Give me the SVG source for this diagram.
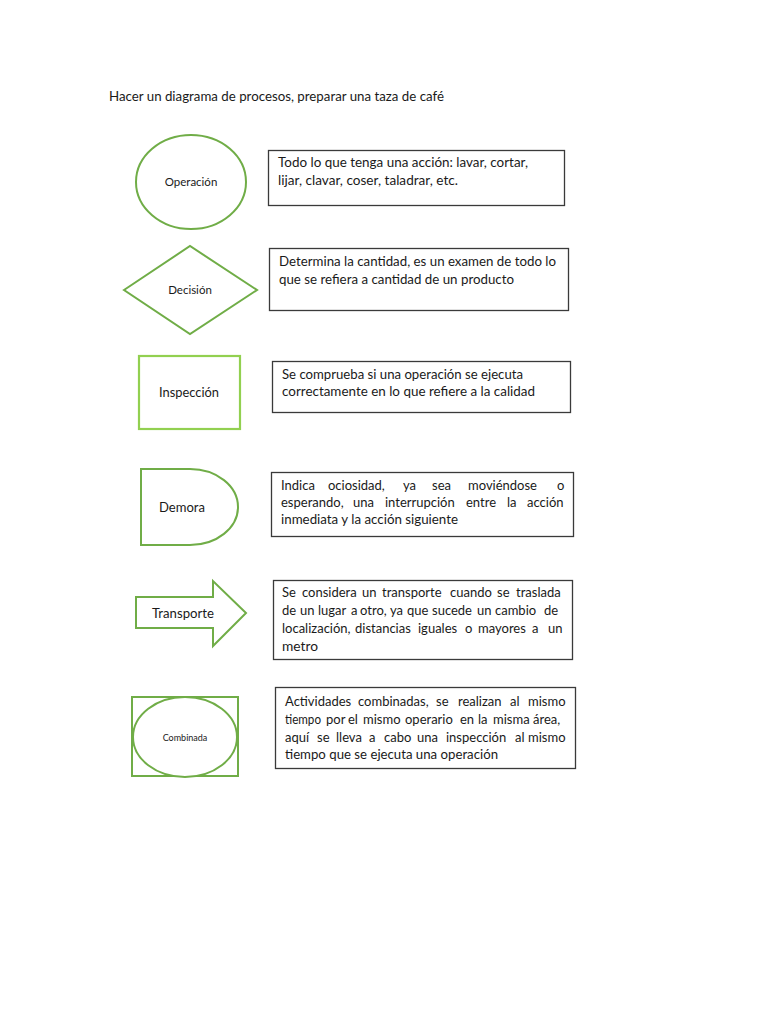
<svg xmlns="http://www.w3.org/2000/svg" width="768" height="1024" viewBox="0 0 768 1024">
<style>
text{font-family:Lato,"Liberation Sans",sans-serif;font-size:13px;fill:#1a1a1a}
.g{fill:#fff;stroke:#70ad47;stroke-width:2}
.gl{fill:#fff;stroke:#92d050;stroke-width:2.2}
.box{fill:#fff;stroke:#3a3a3a;stroke-width:1.3}
.lbl{text-anchor:middle;font-size:11.5px}
.sm{font-size:9px}
</style>
<rect width="768" height="1024" fill="#fff"/>
<text id="title" x="109" y="101" textLength="335" lengthAdjust="spacingAndGlyphs">Hacer un diagrama de procesos, preparar una taza de café</text>

<g id="connectors"></g>

<g id="operacion">
<ellipse class="g" cx="191" cy="182" rx="55" ry="47"/>
<text class="lbl" x="191" y="186">Operación</text>
</g>
<g id="desc-operacion">
<rect class="box" x="268.5" y="150.5" width="296" height="55"/>
<text x="278" y="167" textLength="250" lengthAdjust="spacingAndGlyphs">Todo lo que tenga una acción: lavar, cortar,</text>
<text x="278" y="185" textLength="180" lengthAdjust="spacingAndGlyphs">lijar, clavar, coser, taladrar, etc.</text>
</g>

<g id="decision">
<polygon class="g" points="124,290 190,246 257,290 190,334"/>
<text class="lbl" x="190" y="294">Decisión</text>
</g>
<g id="desc-decision">
<rect class="box" x="269.5" y="248.5" width="299" height="62"/>
<text x="279" y="266" textLength="277" lengthAdjust="spacingAndGlyphs">Determina la cantidad, es un examen de todo lo</text>
<text x="279" y="284" textLength="235" lengthAdjust="spacingAndGlyphs">que se refiera a cantidad de un producto</text>
</g>

<g id="inspeccion">
<rect class="gl" x="139" y="356" width="101" height="73"/>
<text x="189" y="397" text-anchor="middle" textLength="60" lengthAdjust="spacingAndGlyphs">Inspección</text>
</g>
<g id="desc-inspeccion">
<rect class="box" x="272.5" y="361.5" width="298" height="51"/>
<text x="282" y="379" textLength="241" lengthAdjust="spacingAndGlyphs">Se comprueba si una operación se ejecuta</text>
<text x="282" y="396" textLength="253" lengthAdjust="spacingAndGlyphs">correctamente en lo que refiere a la calidad</text>
</g>

<g id="demora">
<path class="g" d="M141,469 H190 A48,38 0 0 1 190,545 H141 Z"/>
<text x="159" y="512" textLength="46" lengthAdjust="spacingAndGlyphs">Demora</text>
</g>
<g id="desc-demora">
<rect class="box" x="271.5" y="472.5" width="302" height="64"/>
<text y="490"><tspan x="281">Indica</tspan><tspan x="328">ociosidad,</tspan><tspan x="403">ya</tspan><tspan x="432">sea</tspan><tspan x="468">moviéndose</tspan><tspan x="557">o</tspan></text>
<text y="507"><tspan x="281">esperando,</tspan><tspan x="353">una</tspan><tspan x="385">interrupción</tspan><tspan x="466">entre</tspan><tspan x="507">la</tspan><tspan x="527">acción</tspan></text>
<text x="281" y="524" textLength="177" lengthAdjust="spacingAndGlyphs">inmediata y la acción siguiente</text>
</g>

<g id="transporte">
<path class="g" d="M136,597 H213 V581 L246,613 L213,646 V628 H136 Z"/>
<text x="152" y="618" textLength="62" lengthAdjust="spacingAndGlyphs">Transporte</text>
</g>
<g id="desc-transporte">
<rect class="box" x="273.5" y="580.5" width="299" height="79"/>
<text y="597"><tspan x="282">Se</tspan><tspan x="302">considera</tspan><tspan x="362">un</tspan><tspan x="382">transporte</tspan><tspan x="450">cuando</tspan><tspan x="497">se</tspan><tspan x="516">traslada</tspan></text>
<text y="615"><tspan x="282">de</tspan><tspan x="300">un</tspan><tspan x="318">lugar</tspan><tspan x="351">a</tspan><tspan x="360">otro,</tspan><tspan x="390">ya</tspan><tspan x="407">que</tspan><tspan x="432">sucede</tspan><tspan x="477">un</tspan><tspan x="495">cambio</tspan><tspan x="544">de</tspan></text>
<text y="633"><tspan x="282">localización,</tspan><tspan x="355">distancias</tspan><tspan x="418">iguales</tspan><tspan x="465">o</tspan><tspan x="478">mayores</tspan><tspan x="532">a</tspan><tspan x="548">un</tspan></text>
<text x="282" y="651" textLength="36" lengthAdjust="spacingAndGlyphs">metro</text>
</g>

<g id="combinada">
<rect class="g" x="132" y="697" width="106" height="79"/>
<ellipse class="g" cx="185" cy="737" rx="52" ry="40"/>
<text class="lbl sm" x="185" y="741">Combinada</text>
</g>
<g id="desc-combinada">
<rect class="box" x="275.5" y="687.5" width="300" height="81"/>
<text y="706"><tspan x="285">Actividades</tspan><tspan x="358">combinadas,</tspan><tspan x="436">se</tspan><tspan x="458">realizan</tspan><tspan x="510">al</tspan><tspan x="528">mismo</tspan></text>
<text x="285" y="724" textLength="36" lengthAdjust="spacingAndGlyphs">tiempo</text>
<text y="724"><tspan x="326">por</tspan><tspan x="348">el</tspan><tspan x="363">mismo</tspan><tspan x="405">operario</tspan><tspan x="460">en</tspan><tspan x="478">la</tspan><tspan x="493">misma</tspan><tspan x="533">área,</tspan></text>
<text y="742"><tspan x="285">aquí</tspan><tspan x="317">se</tspan><tspan x="336">lleva</tspan><tspan x="369">a</tspan><tspan x="384">cabo</tspan><tspan x="417">una</tspan><tspan x="446">inspección</tspan><tspan x="515">al</tspan><tspan x="528">mismo</tspan></text>
<text x="285" y="759" textLength="213" lengthAdjust="spacingAndGlyphs">tiempo que se ejecuta una operación</text>
</g>
</svg>
